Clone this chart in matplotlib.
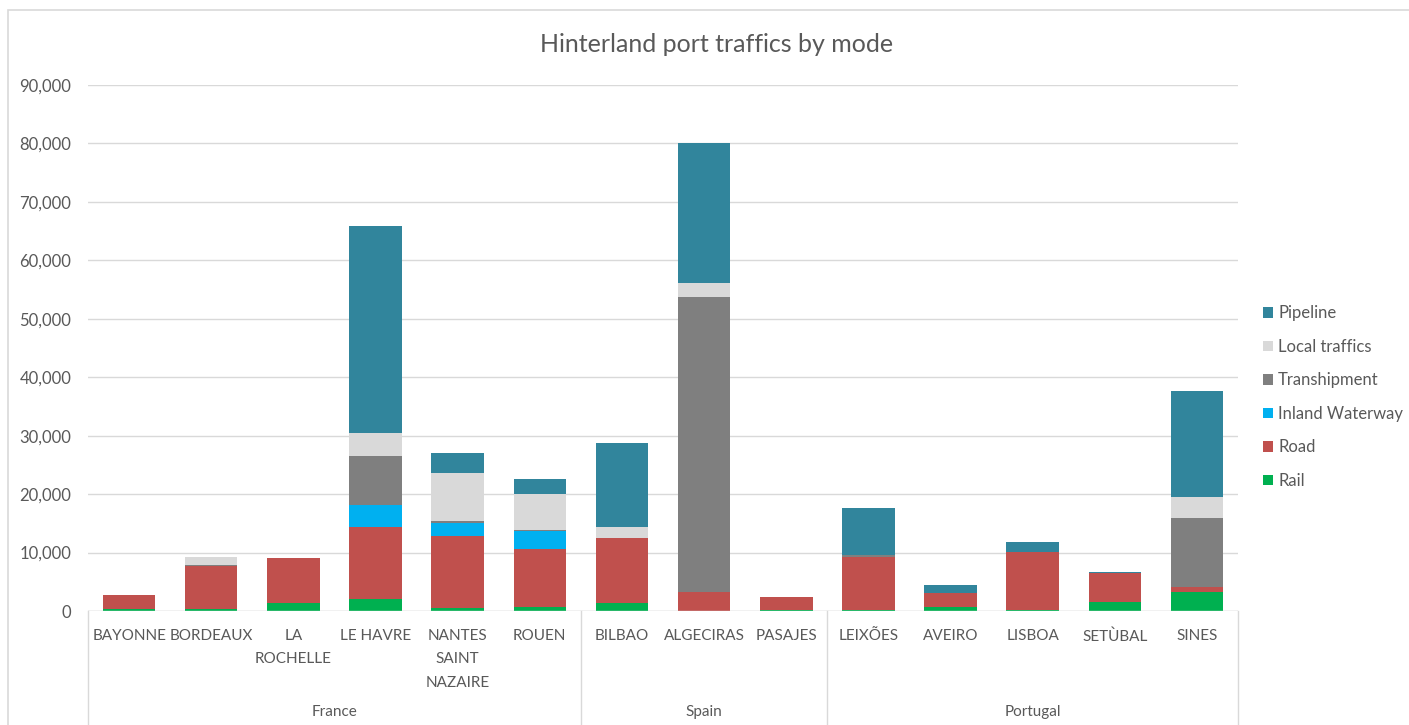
import matplotlib.pyplot as plt
from matplotlib.lines import Line2D
from matplotlib.patches import Rectangle
from matplotlib.transforms import blended_transform_factory

plt.rcParams['font.family'] = ['Lato', 'DejaVu Sans']

# Ports and countries
ports = ['BAYONNE', 'BORDEAUX', 'LA\nROCHELLE', 'LE HAVRE', 'NANTES\nSAINT\nNAZAIRE', 'ROUEN',
         'BILBAO', 'ALGECIRAS', 'PASAJES',
         'LEIXÕES', 'AVEIRO', 'LISBOA', 'SETÙBAL', 'SINES']
countries = ['France', 'Spain', 'Portugal']
country_sizes = [6, 3, 5]

# Traffic by mode
rail = [300, 300, 1400, 2000, 500, 700, 1400, 0, 100, 100, 700, 100, 1600, 3300]
road = [2400, 7400, 7600, 12400, 12300, 9900, 11100, 3300, 2250, 9100, 2400, 10000, 4900, 800]
inland_waterway = [0, 0, 0, 3700, 2300, 3100, 0, 0, 0, 0, 0, 0, 0, 0]
transhipment = [0, 200, 0, 8400, 300, 100, 0, 50500, 0, 300, 0, 0, 0, 11800]
local_traffics = [0, 1400, 0, 4000, 8200, 6200, 1900, 2400, 0, 0, 0, 0, 0, 3600]
pipeline = [0, 0, 0, 35400, 3400, 2500, 14400, 23800, 0, 8200, 1350, 1700, 200, 18200]

series = [
    ('Rail', rail, '#00B050'),
    ('Road', road, '#C0504D'),
    ('Inland Waterway', inland_waterway, '#00B0F0'),
    ('Transhipment', transhipment, '#7F7F7F'),
    ('Local traffics', local_traffics, '#D9D9D9'),
    ('Pipeline', pipeline, '#31859C'),
]

text_color = '#595959'
line_color = '#D9D9D9'

W, H = 1409, 725
fig = plt.figure(figsize=(W / 100, H / 100), dpi=100)
ax = fig.add_axes([88 / W, 1 - 611 / H, (1238 - 88) / W, (611 - 85) / H])

# Stacked bars
x = list(range(len(ports)))
bottom = [0] * len(ports)
handles = []
for name, values, color in series:
    b = ax.bar(x, values, width=0.64, bottom=bottom, color=color, label=name, zorder=3)
    handles.append(b)
    bottom = [a + v for a, v in zip(bottom, values)]

ax.set_xlim(-0.5, len(ports) - 0.5)
ax.set_ylim(0, 90000)
ax.set_yticks(range(0, 90001, 10000))
ax.set_yticklabels([f'{v:,}' for v in range(0, 90001, 10000)])
ax.grid(axis='y', color=line_color, linewidth=1, zorder=0)
for s in ax.spines.values():
    s.set_visible(False)
ax.tick_params(axis='y', length=0, pad=12, labelsize=12, labelcolor=text_color)

ax.set_xticks(x)
ax.set_xticklabels(ports, linespacing=1.85)
ax.tick_params(axis='x', length=0, pad=13, labelsize=11, labelcolor=text_color)

# Baseline and group separators down to the bottom of the figure
ax.axhline(0, color=line_color, linewidth=1, zorder=4)
trans = blended_transform_factory(ax.transData, fig.transFigure)
edges = [-0.5]
for n in country_sizes:
    edges.append(edges[-1] + n)
for e in edges:
    ax.add_line(Line2D([e, e], [1 - 611 / H, 0], color=line_color, linewidth=1,
                       transform=trans, clip_on=False))

start = -0.5
for name, n in zip(countries, country_sizes):
    ax.text(start + n / 2, 1 - 712 / H, name, ha='center', va='center',
            fontsize=11, color=text_color, transform=trans)
    start += n

# Title
fig.text(717 / W, 1 - 45 / H, 'Hinterland port traffics by mode', ha='center', va='center',
         fontsize=18, color=text_color)

# Legend (top to bottom: Pipeline first)
leg = fig.legend(handles[::-1], [s[0] for s in series][::-1], loc='center left',
                 bbox_to_anchor=(1248 / W, 1 - 397 / H), frameon=False,
                 fontsize=12, labelspacing=1.05, handlelength=0.6, handleheight=0.6,
                 handletextpad=0.3)
for t in leg.get_texts():
    t.set_color(text_color)

# Outer chart border
fig.patches.append(Rectangle((8 / W, -0.1), 1.2, 1 - 10 / H + 0.1, transform=fig.transFigure,
                             fill=False, edgecolor=line_color, linewidth=1.2))

fig.savefig('out.png', dpi=100)
